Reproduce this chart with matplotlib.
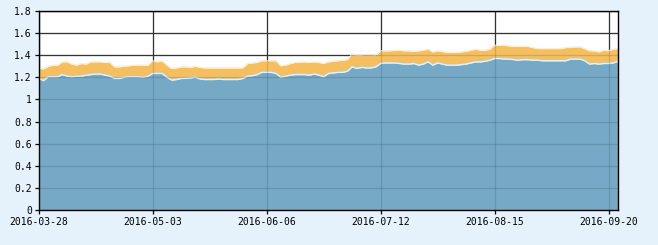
#!/usr/bin/env python3
"""
Stacked area chart, two series over trading days (2016-03-28 .. 2016-09-22)
"""

import matplotlib
matplotlib.use('Agg')
import matplotlib.pyplot as plt
import numpy as np

# lower (blue) series, one value per trading day
lower = [
    1.19, 1.17, 1.205, 1.205, 1.205, 1.225, 1.21, 1.205, 1.21, 1.21,
    1.22, 1.225, 1.23, 1.23, 1.22, 1.21, 1.19, 1.19, 1.20, 1.205,
    1.205, 1.205, 1.20, 1.21, 1.235, 1.235, 1.235, 1.20, 1.175, 1.18,
    1.19, 1.19, 1.195, 1.20, 1.185, 1.18, 1.18, 1.18, 1.185, 1.18,
    1.18, 1.18, 1.18, 1.19, 1.21, 1.215, 1.225, 1.245, 1.245, 1.245,
    1.235, 1.20, 1.21, 1.22, 1.225, 1.225, 1.225, 1.22, 1.23, 1.22,
    1.205, 1.235, 1.24, 1.245, 1.245, 1.255, 1.295, 1.28, 1.29, 1.285,
    1.285, 1.295, 1.325, 1.33, 1.33, 1.33, 1.325, 1.32, 1.32, 1.325,
    1.31, 1.32, 1.34, 1.31, 1.33, 1.32, 1.31, 1.31, 1.31, 1.315,
    1.32, 1.33, 1.34, 1.34, 1.345, 1.355, 1.37, 1.37, 1.365, 1.365,
    1.36, 1.355, 1.36, 1.36, 1.355, 1.355, 1.35, 1.35, 1.35, 1.35,
    1.35, 1.35, 1.365, 1.365, 1.365, 1.35, 1.32, 1.325, 1.32, 1.325,
    1.325, 1.33, 1.345,
]

# top of the orange band (stacked total)
upper = [
    1.285, 1.275, 1.30, 1.31, 1.31, 1.34, 1.34, 1.32, 1.31, 1.325,
    1.32, 1.34, 1.34, 1.34, 1.335, 1.335, 1.295, 1.295, 1.30, 1.305,
    1.31, 1.31, 1.31, 1.31, 1.35, 1.34, 1.35, 1.31, 1.28, 1.285,
    1.295, 1.295, 1.29, 1.30, 1.29, 1.285, 1.285, 1.285, 1.285, 1.285,
    1.285, 1.285, 1.285, 1.285, 1.325, 1.33, 1.335, 1.35, 1.35, 1.35,
    1.35, 1.305, 1.31, 1.325, 1.335, 1.335, 1.34, 1.335, 1.34, 1.335,
    1.325, 1.34, 1.345, 1.35, 1.355, 1.36, 1.41, 1.40, 1.40, 1.405,
    1.405, 1.40, 1.44, 1.44, 1.44, 1.445, 1.445, 1.44, 1.44, 1.435,
    1.44, 1.445, 1.455, 1.43, 1.44, 1.435, 1.425, 1.425, 1.425, 1.43,
    1.435, 1.445, 1.455, 1.445, 1.445, 1.455, 1.49, 1.49, 1.49, 1.485,
    1.48, 1.48, 1.48, 1.48, 1.47, 1.46, 1.46, 1.46, 1.46, 1.46,
    1.46, 1.47, 1.47, 1.475, 1.475, 1.46, 1.44, 1.44, 1.43, 1.445,
    1.44, 1.455, 1.46,
]

date_labels = ['2016-03-28', '2016-05-03', '2016-06-06',
               '2016-07-12', '2016-08-15', '2016-09-20']
y_ticks = [0, 0.2, 0.4, 0.6, 0.8, 1, 1.2, 1.4, 1.6, 1.8]

x = np.arange(len(lower))
tick_step = 24  # one label every 24 trading days

fig = plt.figure(figsize=(6.58, 2.45), dpi=100)
fig.patch.set_facecolor('#e6f2fb')
ax = fig.add_axes([38.7 / 658, 35 / 245, (618 - 38.7) / 658, (210 - 11) / 245])
ax.set_facecolor('white')

grid_kw = dict(color='#333333', linewidth=0.9)
for yv in y_ticks:
    ax.axhline(yv, zorder=0, **grid_kw)
    ax.axhline(yv, zorder=3, alpha=0.18, **grid_kw)
for xv in np.arange(0, len(lower), tick_step):
    ax.axvline(xv, zorder=0, **grid_kw)
    ax.axvline(xv, zorder=3, alpha=0.18, **grid_kw)

ax.fill_between(x, 0, lower, color='#76a9c6', linewidth=0, zorder=1)
ax.fill_between(x, lower, upper, color='#f5bf5f', linewidth=0, zorder=1)
ax.plot(x, lower, color='#e4f1f8', linewidth=1.0, zorder=2)
ax.plot(x, upper, color='#e4f1f8', linewidth=1.0, zorder=2)

ax.set_xlim(0, len(lower) - 1)
ax.set_ylim(0, 1.8)
ax.set_yticks(y_ticks)
ax.set_yticklabels([f'{v:g}' for v in y_ticks])
ax.set_xticks(np.arange(0, len(lower), tick_step))
ax.set_xticklabels(date_labels)

for lbl in ax.get_xticklabels() + ax.get_yticklabels():
    lbl.set_family('DejaVu Sans Mono')
    lbl.set_fontsize(7)
    lbl.set_color('black')
ax.tick_params(axis='both', direction='out', length=3, width=0.9, color='black', pad=2)

for sp in ax.spines.values():
    sp.set_color('black')
    sp.set_linewidth(1.0)
    sp.set_zorder(4)

plt.savefig('out.png', dpi=100, facecolor=fig.get_facecolor())
